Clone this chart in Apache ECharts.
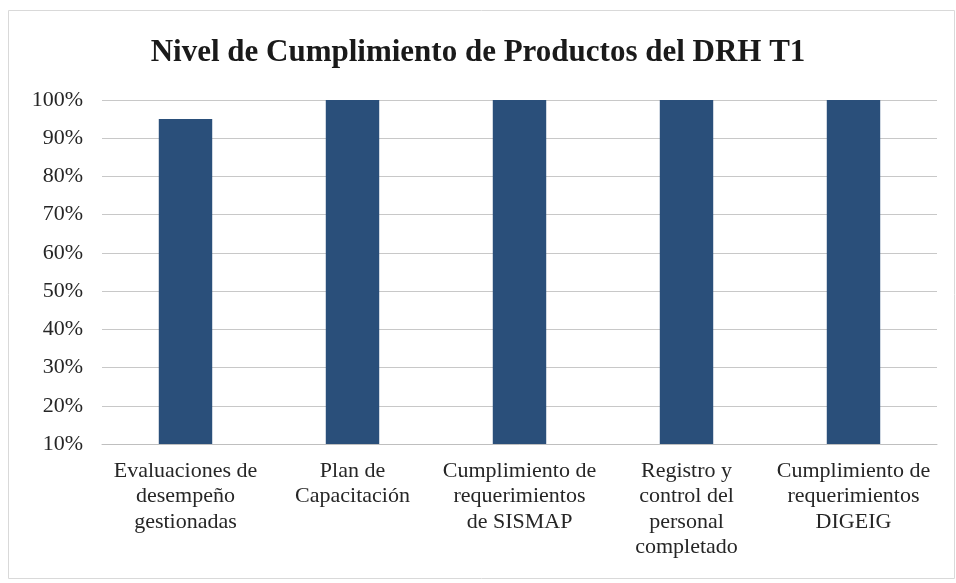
<!doctype html>
<html lang="es">
<head>
<meta charset="UTF-8">
<title>Nivel de Cumplimiento de Productos del DRH T1</title>
<style>
  html, body { margin: 0; padding: 0; background: #fff; }
  #chart { width: 956px; height: 583px; }
</style>
<script src="https://cdn.jsdelivr.net/npm/echarts@6/dist/echarts.min.js"></script>
</head>
<body>
<div id="chart"></div>
<script>
// datos del grafico
var categorias = [
  'Evaluaciones de\ndesempeño\ngestionadas',
  'Plan de\nCapacitación',
  'Cumplimiento de\nrequerimientos\nde SISMAP',
  'Registro y\ncontrol del\npersonal\ncompletado',
  'Cumplimiento de\nrequerimientos\nDIGEIG'
];
var cumplimiento = [95, 100, 100, 100, 100];

var fuente = '"Liberation Serif", "Times New Roman", serif';

var chart = echarts.init(document.getElementById('chart'));
var option = {
  animation: false,
  graphic: [{
    type: 'rect',
    shape: { x: 8.5, y: 10.5, width: 946, height: 568 },
    style: { fill: 'none', stroke: '#d9d9d9', lineWidth: 1 },
    silent: true
  }],
  title: {
    text: 'Nivel de Cumplimiento de Productos del DRH T1',
    left: 'center',
    top: 32,
    textStyle: { fontFamily: fuente, fontSize: 31, fontWeight: 'bold', color: '#1a1a1a' }
  },
  grid: { left: 102, right: 19, top: 100, bottom: 139 },
  xAxis: {
    type: 'category',
    data: categorias,
    axisTick: { show: false },
    axisLine: { lineStyle: { color: '#bfbfbf' } },
    axisLabel: {
      interval: 0,
      margin: 14,
      fontFamily: fuente,
      fontSize: 22,
      lineHeight: 25.5,
      color: '#262626'
    }
  },
  yAxis: {
    type: 'value',
    min: 10,
    max: 100,
    interval: 10,
    axisLine: { show: false },
    axisTick: { show: false },
    splitLine: { lineStyle: { color: '#c8c8c8' } },
    axisLabel: {
      formatter: '{value}%',
      margin: 19,
      fontFamily: fuente,
      fontSize: 22,
      color: '#262626'
    }
  },
  series: [{
    type: 'bar',
    data: cumplimiento,
    barWidth: '32%',
    itemStyle: { color: '#2a4f7a' }
  }]
};
chart.setOption(option);
</script>
</body>
</html>
